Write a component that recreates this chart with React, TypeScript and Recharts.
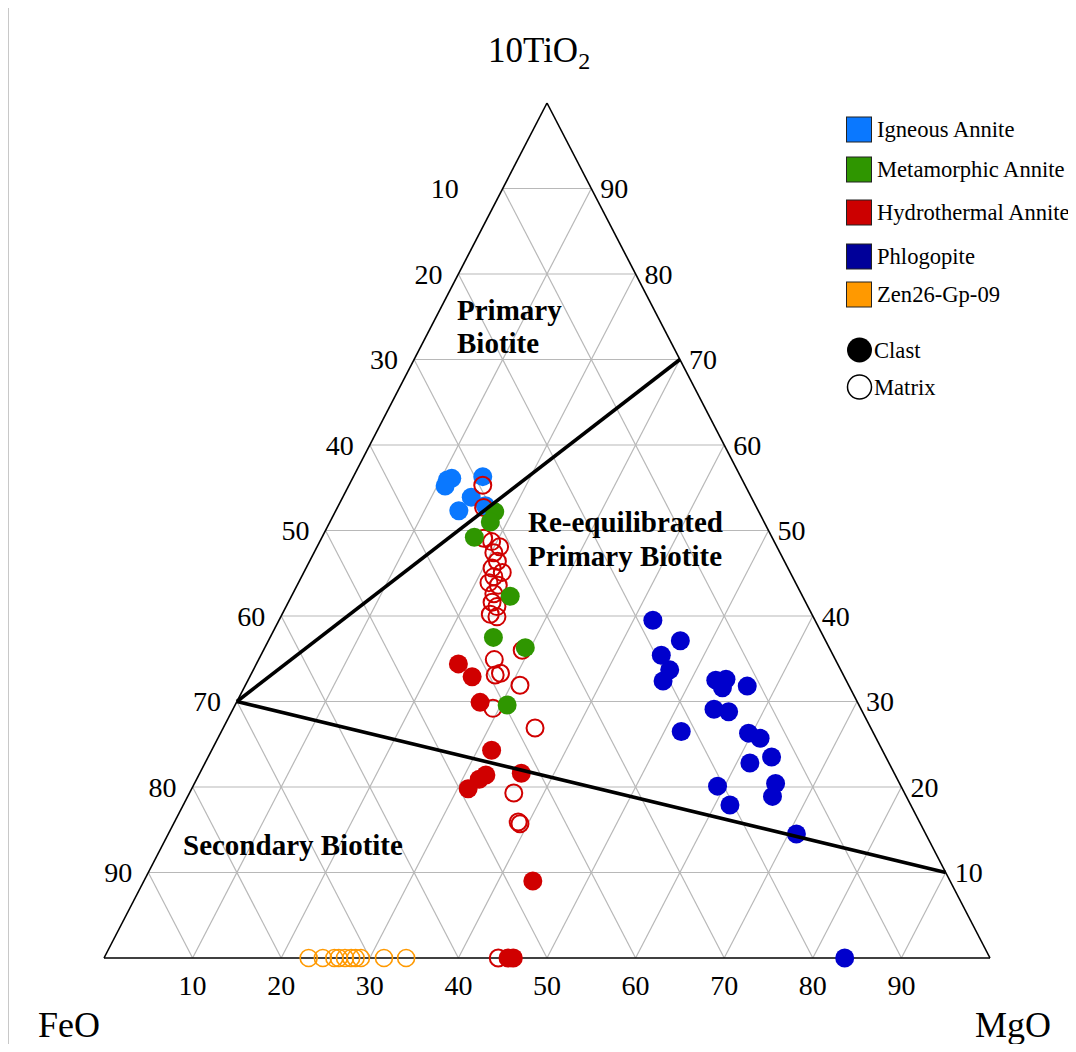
import { ScatterChart, Scatter, XAxis, YAxis, ReferenceLine } from 'recharts';

type Comp = { tio2: number; feo: number; mgo: number };

// Compositions in wt% (10TiO2 / FeO / MgO normalised)
const igneousClast: Comp[] = [
  { tio2: 55.9, feo: 33.3, mgo: 10.8 },
  { tio2: 56.1, feo: 32.7, mgo: 11.2 },
  { tio2: 55.2, feo: 33.9, mgo: 10.9 },
  { tio2: 56.3, feo: 29.1, mgo: 14.6 },
  { tio2: 53.9, feo: 31.6, mgo: 14.5 },
  { tio2: 52.3, feo: 33.8, mgo: 13.9 },
  { tio2: 52.9, feo: 30.5, mgo: 16.6 },
];

const hydroClast: Comp[] = [
  { tio2: 34.4, feo: 42.8, mgo: 22.8 },
  { tio2: 32.9, feo: 42.0, mgo: 25.1 },
  { tio2: 29.9, feo: 42.6, mgo: 27.5 },
  { tio2: 24.3, feo: 44.1, mgo: 31.6 },
  { tio2: 21.4, feo: 46.2, mgo: 32.4 },
  { tio2: 20.9, feo: 47.2, mgo: 31.9 },
  { tio2: 19.8, feo: 49.0, mgo: 31.2 },
  { tio2: 21.6, feo: 42.1, mgo: 36.3 },
  { tio2: 9.0, feo: 47.1, mgo: 43.9 },
  { tio2: 0, feo: 53.8, mgo: 46.2 },
  { tio2: 0, feo: 54.4, mgo: 45.6 },
];

const hydroMatrix: Comp[] = [
  { tio2: 55.3, feo: 29.6, mgo: 15.1 },
  { tio2: 52.7, feo: 30.8, mgo: 16.5 },
  { tio2: 49.1, feo: 32.6, mgo: 18.3 },
  { tio2: 48.7, feo: 31.9, mgo: 19.4 },
  { tio2: 48.1, feo: 31.3, mgo: 20.6 },
  { tio2: 47.4, feo: 32.3, mgo: 20.3 },
  { tio2: 46.4, feo: 32.4, mgo: 21.2 },
  { tio2: 45.6, feo: 33.4, mgo: 21.0 },
  { tio2: 45.1, feo: 32.5, mgo: 22.4 },
  { tio2: 44.6, feo: 33.7, mgo: 21.7 },
  { tio2: 43.9, feo: 34.6, mgo: 21.5 },
  { tio2: 43.6, feo: 33.7, mgo: 22.7 },
  { tio2: 42.6, feo: 34.7, mgo: 22.7 },
  { tio2: 41.6, feo: 35.4, mgo: 23.0 },
  { tio2: 41.1, feo: 35.1, mgo: 23.8 },
  { tio2: 40.2, feo: 36.3, mgo: 23.5 },
  { tio2: 39.9, feo: 35.7, mgo: 24.4 },
  { tio2: 36.0, feo: 34.8, mgo: 29.2 },
  { tio2: 34.9, feo: 38.5, mgo: 26.6 },
  { tio2: 33.1, feo: 39.3, mgo: 27.6 },
  { tio2: 33.3, feo: 38.6, mgo: 28.1 },
  { tio2: 31.9, feo: 37.1, mgo: 31.0 },
  { tio2: 29.2, feo: 41.5, mgo: 29.3 },
  { tio2: 26.9, feo: 37.9, mgo: 35.2 },
  { tio2: 19.3, feo: 44.1, mgo: 36.6 },
  { tio2: 15.9, feo: 45.3, mgo: 38.8 },
  { tio2: 15.7, feo: 45.2, mgo: 39.1 },
  { tio2: 0, feo: 55.5, mgo: 44.5 },
];

const metamorphicClast: Comp[] = [
  { tio2: 52.2, feo: 29.8, mgo: 18.0 },
  { tio2: 51.0, feo: 30.9, mgo: 18.1 },
  { tio2: 49.2, feo: 33.6, mgo: 17.2 },
  { tio2: 42.3, feo: 33.0, mgo: 24.7 },
  { tio2: 37.5, feo: 37.3, mgo: 25.2 },
  { tio2: 36.3, feo: 34.3, mgo: 29.4 },
  { tio2: 29.6, feo: 39.7, mgo: 30.7 },
];

const phlogopiteClast: Comp[] = [
  { tio2: 39.5, feo: 18.3, mgo: 42.2 },
  { tio2: 37.1, feo: 16.4, mgo: 46.5 },
  { tio2: 35.4, feo: 19.4, mgo: 45.2 },
  { tio2: 33.7, feo: 19.3, mgo: 47.0 },
  { tio2: 32.4, feo: 20.7, mgo: 46.9 },
  { tio2: 32.5, feo: 14.7, mgo: 52.8 },
  { tio2: 32.6, feo: 13.5, mgo: 53.9 },
  { tio2: 31.6, feo: 14.4, mgo: 54.0 },
  { tio2: 31.8, feo: 11.5, mgo: 56.7 },
  { tio2: 29.1, feo: 16.6, mgo: 54.3 },
  { tio2: 28.8, feo: 15.1, mgo: 56.1 },
  { tio2: 26.5, feo: 21.6, mgo: 51.9 },
  { tio2: 26.3, feo: 14.1, mgo: 59.6 },
  { tio2: 25.7, feo: 13.1, mgo: 61.2 },
  { tio2: 23.5, feo: 12.9, mgo: 63.6 },
  { tio2: 22.8, feo: 15.7, mgo: 61.5 },
  { tio2: 20.4, feo: 14.0, mgo: 65.6 },
  { tio2: 18.9, feo: 15.1, mgo: 66.0 },
  { tio2: 20.1, feo: 20.7, mgo: 59.2 },
  { tio2: 17.9, feo: 20.4, mgo: 61.7 },
  { tio2: 14.5, feo: 14.6, mgo: 70.9 },
  { tio2: 0, feo: 16.4, mgo: 83.6 },
];

const zenMatrix: Comp[] = [
  { tio2: 0, feo: 76.9, mgo: 23.1 },
  { tio2: 0, feo: 75.3, mgo: 24.7 },
  { tio2: 0, feo: 74.0, mgo: 26.0 },
  { tio2: 0, feo: 73.5, mgo: 26.5 },
  { tio2: 0, feo: 72.8, mgo: 27.2 },
  { tio2: 0, feo: 72.1, mgo: 27.9 },
  { tio2: 0, feo: 71.6, mgo: 28.4 },
  { tio2: 0, feo: 71.0, mgo: 29.0 },
  { tio2: 0, feo: 68.4, mgo: 31.6 },
  { tio2: 0, feo: 65.9, mgo: 34.1 },
];

// Field boundaries
const primaryBoundary: Comp[] = [
  { tio2: 30, feo: 70, mgo: 0 },
  { tio2: 70, feo: 0, mgo: 30 },
];
const secondaryBoundary: Comp[] = [
  { tio2: 30, feo: 70, mgo: 0 },
  { tio2: 10, feo: 0, mgo: 90 },
];

const gridSteps = [10, 20, 30, 40, 50, 60, 70, 80, 90];
const feoTicks = [10, 20, 30, 40, 50, 60, 70, 80, 90];
const tio2Ticks = [10, 20, 30, 40, 50, 60, 70, 80, 90];
const mgoTicks = [10, 20, 30, 40, 50, 60, 70, 80, 90];

const legendItems = [
  { name: 'Igneous Annite', color: '#0a78ff' },
  { name: 'Metamorphic Annite', color: '#2f9600' },
  { name: 'Hydrothermal Annite', color: '#cc0000' },
  { name: 'Phlogopite', color: '#000099' },
  { name: 'Zen26-Gp-09', color: '#ff9900' },
];

const COLORS = {
  igneous: '#0a78ff',
  metamorphic: '#2f9600',
  hydro: '#d00000',
  phlogopite: '#0000cc',
  zen: '#ff9900',
};

// ternary -> cartesian (FeO bottom-left, MgO bottom-right, TiO2 apex)
const toXY = (c: Comp) => {
  const sum = c.tio2 + c.feo + c.mgo;
  const t = (c.tio2 / sum) * 100;
  const m = (c.mgo / sum) * 100;
  return { x: m + t / 2, y: t };
};

const seg = (a: Comp, b: Comp) => [toXY(a), toXY(b)];

const gridSegments = gridSteps.flatMap((v) => [
  seg({ tio2: v, feo: 100 - v, mgo: 0 }, { tio2: v, feo: 0, mgo: 100 - v }),
  seg({ tio2: 0, feo: 100 - v, mgo: v }, { tio2: 100 - v, feo: 0, mgo: v }),
  seg({ tio2: 0, feo: v, mgo: 100 - v }, { tio2: 100 - v, feo: v, mgo: 0 }),
]);

const edges = [
  seg({ tio2: 0, feo: 100, mgo: 0 }, { tio2: 0, feo: 0, mgo: 100 }),
  seg({ tio2: 0, feo: 100, mgo: 0 }, { tio2: 100, feo: 0, mgo: 0 }),
  seg({ tio2: 0, feo: 0, mgo: 100 }, { tio2: 100, feo: 0, mgo: 0 }),
];

const feoTickData = feoTicks.map((v) => ({ ...toXY({ tio2: 100 - v, feo: v, mgo: 0 }), label: v }));
const tio2TickData = tio2Ticks.map((v) => ({ ...toXY({ tio2: v, feo: 0, mgo: 100 - v }), label: v }));
const mgoTickData = mgoTicks.map((v) => ({ ...toXY({ tio2: 0, feo: 100 - v, mgo: v }), label: v }));

const SERIF = '"Liberation Serif", "Times New Roman", serif';
const TICK_SIZE = 28;

const filledDot = (color: string) => (p: any) =>
  <circle cx={p.cx} cy={p.cy} r={9.5} fill={color} />;
const openDot = (color: string, w: number) => (p: any) =>
  <circle cx={p.cx} cy={p.cy} r={8.5} fill="none" stroke={color} strokeWidth={w} />;
const noDot = () => <g />;

const tickText = (dx: (v: number) => number, dy: number) => (p: any) => (
  <text
    x={p.cx + dx(p.payload.label)}
    y={p.cy + dy}
    textAnchor="middle"
    dominantBaseline="central"
    fontFamily={SERIF}
    fontSize={TICK_SIZE}
    fill="#000"
  >
    {p.payload.label}
  </text>
);

export default function App() {
  const W = 1068;
  const H = 1036;

  return (
    <div style={{ position: 'relative', width: W, height: H, fontFamily: SERIF }}>
      <div
        style={{
          position: 'absolute',
          top: -3,
          left: 0,
          right: -8,
          bottom: -8,
          borderTop: '1px solid #c8c8c8',
          borderLeft: '1px solid #c8c8c8',
          pointerEvents: 'none',
        }}
      />
      <ScatterChart width={W} height={H} margin={{ top: 95, right: 86, bottom: 86, left: 96 }}>
        <XAxis type="number" dataKey="x" domain={[0, 100]} hide />
        <YAxis type="number" dataKey="y" domain={[0, 100]} hide />
        {gridSegments.map((s, i) => (
          <ReferenceLine key={`g${i}`} segment={s} stroke="#b8b8b8" strokeWidth={1.2} ifOverflow="visible" />
        ))}
        {edges.map((s, i) => (
          <ReferenceLine key={`e${i}`} segment={s} stroke="#000" strokeWidth={1.6} ifOverflow="visible" />
        ))}

        <Scatter data={igneousClast.map(toXY)} shape={filledDot(COLORS.igneous)} isAnimationActive={false} />
        <Scatter data={hydroClast.map(toXY)} shape={filledDot(COLORS.hydro)} isAnimationActive={false} />
        <Scatter data={hydroMatrix.map(toXY)} shape={openDot(COLORS.hydro, 2)} isAnimationActive={false} />
        <Scatter data={metamorphicClast.map(toXY)} shape={filledDot(COLORS.metamorphic)} isAnimationActive={false} />
        <Scatter data={phlogopiteClast.map(toXY)} shape={filledDot(COLORS.phlogopite)} isAnimationActive={false} />
        <Scatter data={zenMatrix.map(toXY)} shape={openDot(COLORS.zen, 1.6)} isAnimationActive={false} />

        <Scatter
          data={primaryBoundary.map(toXY)}
          line={{ stroke: '#000', strokeWidth: 3.6 }}
          shape={noDot}
          isAnimationActive={false}
        />
        <Scatter
          data={secondaryBoundary.map(toXY)}
          line={{ stroke: '#000', strokeWidth: 3.6 }}
          shape={noDot}
          isAnimationActive={false}
        />

        {/* axis numbers along the three edges */}
        <Scatter data={feoTickData} shape={tickText((v) => (v === 10 ? -58 : -30), 0)} isAnimationActive={false} />
        <Scatter data={tio2TickData} shape={tickText(() => 23, 0)} isAnimationActive={false} />
        <Scatter data={mgoTickData} shape={tickText(() => 0, 27)} isAnimationActive={false} />
      </ScatterChart>

      <svg
        width={W}
        height={H}
        style={{ position: 'absolute', left: 0, top: 0, pointerEvents: 'none' }}
        fontFamily={SERIF}
      >
        <text x={480} y={54} fontSize={35}>
          10TiO<tspan fontSize={24} dy={7}>2</tspan>
        </text>
        <text x={30} y={1029} fontSize={36}>FeO</text>
        <text x={967} y={1029} fontSize={36}>MgO</text>

        <g fontSize={29} fontWeight="bold">
          <text x={449} y={312}>Primary</text>
          <text x={449} y={345}>Biotite</text>
          <text x={520} y={524}>Re-equilibrated</text>
          <text x={520} y={558}>Primary Biotite</text>
          <text x={175} y={847}>Secondary Biotite</text>
        </g>

        <g fontSize={22.6}>
          {legendItems.map((it, i) => {
            const cy = [121, 161, 204, 248, 286][i];
            return (
              <g key={it.name}>
                <rect x={838.5} y={cy - 12} width={25} height={25} fill={it.color} stroke="#222" strokeWidth={1} />
                <text x={869} y={cy + 8}>{it.name}</text>
              </g>
            );
          })}
          <circle cx={851.5} cy={342} r={12.5} fill="#000" />
          <text x={866} y={350}>Clast</text>
          <circle cx={851.5} cy={379} r={12} fill="none" stroke="#000" strokeWidth={1.5} />
          <text x={866} y={387}>Matrix</text>
        </g>
      </svg>
    </div>
  );
}
